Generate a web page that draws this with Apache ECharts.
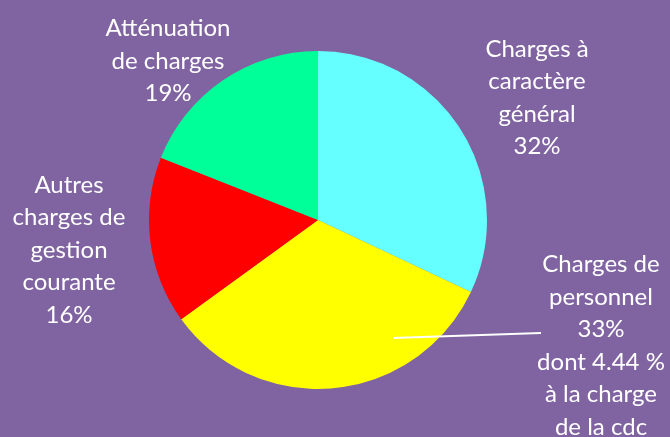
<!DOCTYPE html>
<html><head><meta charset="utf-8">
<script src="https://cdn.jsdelivr.net/npm/echarts@6/dist/echarts.min.js"></script>
<style>html,body{margin:0;padding:0;background:#8064A2;}#c{width:670px;height:437px;}</style>
</head><body><div id="c"></div>
<script>
const categories = ['Charges à\ncaractère\ngénéral', 'Charges de\npersonnel', 'Autres\ncharges de\ngestion\ncourante', 'Atténuation\nde charges'];
const values = [32, 33, 16, 19];
const notes = ['', '\ndont 4.44 %\nà la charge\nde la cdc', '', ''];
const colors = ['#66FFFF', '#FFFF00', '#FF0000', '#00FF99'];
// label anchor positions (text block centres)
const labelPos = [[537, 98], [601, 346], [69, 250], [168, 61]];

const chart = echarts.init(document.getElementById('c'));
chart.setOption({
  backgroundColor: '#8064A2',
  animation: false,
  graphic: [{
    type: 'line', z: 100, silent: true,
    shape: { x1: 393, y1: 338, x2: 541, y2: 333 },
    style: { stroke: '#FFFFFF', lineWidth: 2 }
  }],
  series: [{
    type: 'pie',
    center: [318, 220],
    radius: 169,
    startAngle: 90,
    clockwise: true,
    data: categories.map((c, i) => ({
      name: c, value: values[i],
      itemStyle: { color: colors[i] }
    })),
    label: {
      show: true,
      color: '#FFFFFF',
      fontFamily: 'Lato',
      fontSize: 24,
      lineHeight: 32.5,
      align: 'center',
      overflow: 'none',
      width: 300,
      formatter: p => p.name + '\n' + p.value + '%' + notes[p.dataIndex]
    },
    labelLine: { show: false },
    labelLayout: function (params) {
      const i = params.dataIndex;
      return { x: labelPos[i][0], y: labelPos[i][1], align: 'center', verticalAlign: 'middle' };
    }
  }]
});
</script></body></html>
